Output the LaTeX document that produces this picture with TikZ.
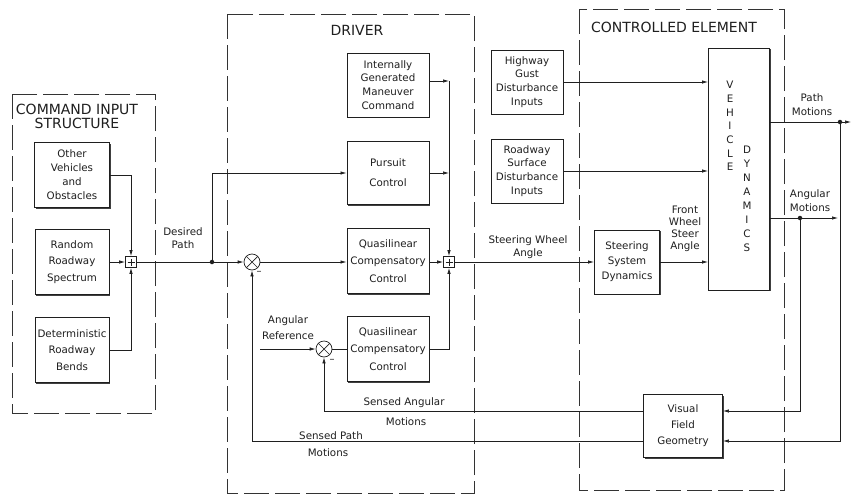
\documentclass[tikz,border=0pt]{standalone}
\usepackage{fontspec}
\setmainfont{DejaVu Sans}
\usetikzlibrary{arrows.meta,shadows,calc}
\begin{document}
\begin{tikzpicture}[x=1pt,y=-1pt,
  color=black!88, line width=0.7pt,
  blk/.style={draw=black!88, fill=white, line width=0.9pt, align=center, inner sep=1pt,
    font=\fontsize{10.3}{14}\selectfont,
    drop shadow={shadow xshift=1.1pt,shadow yshift=-1.1pt,fill=black!75,opacity=1}},
  grp/.style={draw=black!80, line width=0.85pt, dash pattern=on 25pt off 6pt},
  lbl/.style={align=center, inner sep=0pt, font=\fontsize{10.3}{13}\selectfont},
  ttl/.style={align=center, inner sep=0pt, font=\fontsize{14}{14}\selectfont},
  arr/.style={-{Latex[length=6pt,width=3.4pt]}},
  jdot/.style={circle, fill=black!88, inner sep=0pt, minimum size=4.5pt},
  mult/.style={circle, draw, fill=white, minimum size=16pt, inner sep=0pt,
    path picture={\draw (path picture bounding box.north west) -- (path picture bounding box.south east)
      (path picture bounding box.north east) -- (path picture bounding box.south west);}},
  sumj/.style={rectangle, draw, fill=white, minimum size=11pt, inner sep=0pt,
    path picture={\draw ($(path picture bounding box.center)+(0,3.5)$) -- ($(path picture bounding box.center)+(0,-3.5)$)
      ($(path picture bounding box.center)+(-3.5,0)$) -- ($(path picture bounding box.center)+(3.5,0)$);}}
]
\useasboundingbox (0,0) rectangle (852,496);
\fill[white] (0,0) rectangle (852,496);

% groups
\draw[grp] (12,94) rectangle (155,413);
\draw[grp] (227,14) rectangle (474,493);
\draw[grp] (579,9) rectangle (784,490);
\node[ttl] (tcis) at (77,116) {COMMAND INPUT\\STRUCTURE};
\node[ttl] (tdrv) at (357,30) {DRIVER};
\node[ttl] (tce) at (674,27) {CONTROLLED ELEMENT};

% command input blocks
\node[blk, minimum width=75pt, minimum height=65pt] (other) at (72,175) {Other\\Vehicles\\and\\Obstacles};
\node[blk, minimum width=74pt, minimum height=65pt, font=\fontsize{10.3}{16.5}\selectfont] (random) at (72,262) {Random\\Roadway\\Spectrum};
\node[blk, minimum width=74pt, minimum height=65pt, font=\fontsize{10.3}{16.5}\selectfont] (det) at (72,350) {Deterministic\\Roadway\\Bends};
\node[sumj] (sumA) at (131,262) {};

% driver blocks
\node[blk, minimum width=82pt, minimum height=64pt, font=\fontsize{10.3}{13.8}\selectfont] (internal) at (388,85) {Internally\\Generated\\Maneuver\\Command};
\node[blk, minimum width=82pt, minimum height=63pt, font=\fontsize{10.3}{20}\selectfont] (pursuit) at (388,173) {Pursuit\\Control};
\node[blk, minimum width=82pt, minimum height=65pt, font=\fontsize{10.3}{17.5}\selectfont] (qc1) at (388,261) {Quasilinear\\Compensatory\\Control};
\node[blk, minimum width=82pt, minimum height=65pt, font=\fontsize{10.3}{17.5}\selectfont] (qc2) at (388,349) {Quasilinear\\Compensatory\\Control};
\node[mult] (mult1) at (252,262) {};
\node[mult] (mult2) at (324,349) {};
\node[sumj] (sumB) at (449,262) {};
\node[jdot] (dotA) at (212,262) {};
\coordinate (cInt) at (449,81);
\coordinate (cPur) at (449,173);
\coordinate (angref) at (260,349);

% disturbance + controlled element
\node[blk, minimum width=72pt, minimum height=64pt, font=\fontsize{10.3}{13.7}\selectfont] (highway) at (527,82) {Highway\\Gust\\Disturbance\\Inputs};
\node[blk, minimum width=72pt, minimum height=64pt, font=\fontsize{10.3}{13.7}\selectfont] (roadway) at (527,171) {Roadway\\Surface\\Disturbance\\Inputs};
\node[blk, minimum width=65pt, minimum height=64pt, font=\fontsize{10.3}{15}\selectfont] (steer) at (627,262) {Steering\\System\\Dynamics};
\node[blk, minimum width=61pt, minimum height=242pt] (vd) at (739,169) {};
\node[align=center, inner sep=0pt, font=\fontsize{10.3}{13.7}\selectfont] (vdA) at (730,126) {V\\E\\H\\I\\C\\L\\E};
\node[align=center, inner sep=0pt, font=\fontsize{10.3}{14}\selectfont] (vdB) at (747,199) {D\\Y\\N\\A\\M\\I\\C\\S};
\node[blk, minimum width=79pt, minimum height=63pt, font=\fontsize{10.3}{16}\selectfont] (visual) at (683,426) {Visual\\Field\\Geometry};
\node[jdot] (dotP) at (840,122) {};
\node[jdot] (dotAng) at (800,218) {};
\coordinate (pmEnd) at (851,122);
\coordinate (amEnd) at (838,218);

% connectors: command input
\draw[arr] (other.east) -| (sumA.north);
\draw[arr] (random.east) -- (sumA.west);
\draw[arr] (det.east) -| (sumA.south);
\draw (sumA.east) -- (dotA.center);
\draw[arr] (dotA.center) -- (mult1.west);
\draw[arr] (dotA.center) |- (pursuit.west);

% driver
\draw[arr] (mult1.east) -- (qc1.west |- mult1.east);
\draw[arr] ([yshift=4pt]internal.east) -- (cInt);
\draw[arr] (pursuit.east) -- (cPur);
\draw[arr] (cInt) -- (sumB.north);
\draw[arr] (qc1.east |- sumB.west) -- (sumB.west);
\draw[arr] (qc2.east) -| (sumB.south);
\draw[arr] (angref) -- (mult2.west);
\draw (mult2.east) -- (qc2.west);

% controlled element
\draw[arr] (sumB.east) -- (steer.west);
\draw[arr] (steer.east) -- (steer.east -| vd.west);
\draw[arr] (highway.east) -- (highway.east -| vd.west);
\draw[arr] (roadway.east) -- (roadway.east -| vd.west);
\draw[arr] (vd.east |- dotP) -- (pmEnd);
\draw[arr] (vd.east |- dotAng) -- (amEnd);
\draw[arr] (dotAng.center) |- ([yshift=15pt]visual.east);
\draw[arr] (dotP.center) |- ([yshift=-15pt]visual.east);
\draw[arr] ([yshift=15pt]visual.west) -| (mult2.south);
\draw[arr] ([yshift=-15pt]visual.west) -| (mult1.south);

% labels
\node[lbl] (ldp) at (183,238) {Desired\\Path};
\node[lbl] (lsw) at (528,247) {Steering Wheel\\Angle};
\node[lbl, font=\fontsize{10.3}{12}\selectfont] (lfw) at (685,229) {Front\\Wheel\\Steer\\Angle};
\node[lbl, font=\fontsize{10.3}{14}\selectfont] (lpm) at (812,105) {Path\\Motions};
\node[lbl, font=\fontsize{10.3}{14}\selectfont] (lam) at (810,201) {Angular\\Motions};
\node[lbl, font=\fontsize{10.3}{16}\selectfont] (lar) at (288,328) {Angular\\Reference};
\node[lbl] (lsa1) at (404,403) {Sensed Angular};
\node[lbl] (lsa2) at (406,422) {Motions};
\node[lbl] (lsp1) at (331,436) {Sensed Path};
\node[lbl] (lsp2) at (328,453) {Motions};
\node[lbl, font=\fontsize{10}{10}\selectfont] (m1) at (259,273) {–};
\node[lbl, font=\fontsize{10}{10}\selectfont] (m2) at (332,361) {–};
\end{tikzpicture}
\end{document}
